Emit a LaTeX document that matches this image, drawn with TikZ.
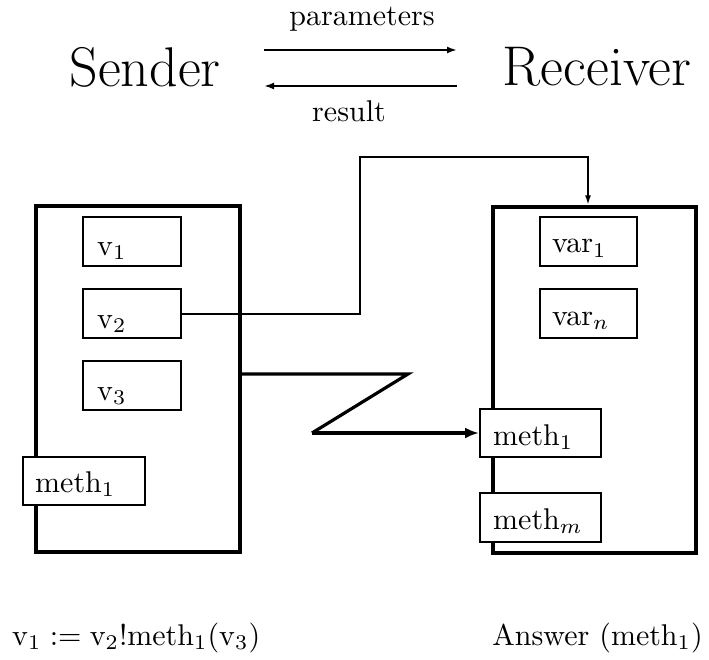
\documentclass[tikz,border=0pt]{standalone}
\usepackage{graphicx}
\usetikzlibrary{arrows.meta}
% text is set at 10pt and enlarged, so the small design of the font is kept
\newcommand{\SX}[1]{\scalebox{3}{#1}}
\newcommand{\HX}[1]{\scalebox{2.25}{\Huge #1}}
\begin{document}
\begin{tikzpicture}[x=1pt,y=-1pt,
  bigframe/.style={draw, line width=3.4pt, inner sep=0pt},
  slot/.style={draw, line width=2pt, fill=white, inner sep=0pt},
  lbl/.style={inner sep=0pt, anchor=base west},
  ctr/.style={inner sep=0pt, anchor=base},
  msg/.style={line width=2.4pt},
  wire/.style={line width=2pt},
  bolt/.style={line width=3.2pt, line join=miter},
  fire/.style={line width=4.2pt}]
\useasboundingbox (0,0) rectangle (709,660);

% header: the two objects and the message exchange
\node[ctr] (sender) at (145,87) {\HX{Sender}};
\node[ctr] (receiver) at (597,86) {\HX{Receiver}};
\node[ctr] (params) at (362,26) {\SX{parameters}};
\node[ctr] (result) at (349,122) {\SX{result}};
\coordinate (pa) at (264,50);
\coordinate (pb) at (457,50);
\coordinate (ra) at (457,86);
\coordinate (rb) at (264,86);
\draw[msg,-{Latex[length=10pt,width=7pt]}] (pa) -- (pb);
\draw[msg,-{Latex[length=10pt,width=7pt]}] (ra) -- (rb);

% sender object
\node[bigframe, minimum width=204pt, minimum height=346pt] (sframe) at (138,379) {};
\node[slot, minimum width=98pt, minimum height=49pt] (v1) at (132,241.5) {};
\node[slot, minimum width=98pt, minimum height=49pt] (v2) at (132,313.5) {};
\node[slot, minimum width=98pt, minimum height=49pt] (v3) at (132,385.5) {};
\node[slot, minimum width=122pt, minimum height=48pt] (smeth) at (84,481) {};
\node[lbl] (tv1) at (97,255) {\SX{v$_1$}};
\node[lbl] (tv2) at (97,328) {\SX{v$_2$}};
\node[lbl] (tv3) at (97,400) {\SX{v$_3$}};
\node[lbl] (tsmeth) at (35,492) {\SX{meth$_1$}};

% receiver object
\node[bigframe, minimum width=203pt, minimum height=346pt] (rframe) at (594.5,380) {};
\node[slot, minimum width=97pt, minimum height=49pt] (var1) at (588.5,241.5) {};
\node[slot, minimum width=97pt, minimum height=49pt] (varn) at (588.5,313.5) {};
\node[slot, minimum width=121pt, minimum height=48pt] (rmeth1) at (540.5,433) {};
\node[slot, minimum width=121pt, minimum height=49pt] (rmethm) at (540.5,517.5) {};
\node[lbl] (tvar1) at (552,253) {\SX{var$_1$}};
\node[lbl] (tvarn) at (552,325) {\SX{var$_n$}};
\node[lbl] (trmeth1) at (493,445) {\SX{meth$_1$}};
\node[lbl] (trmethm) at (493,529) {\SX{meth$_m$}};

% parameter passed from v2 into the receiver
\coordinate (up) at (360,157);
\coordinate (drop) at (588,157);
\draw[wire,-{Latex[length=10pt,width=6pt]}] (v2.east) -| (up) -- (drop) -- (drop |- rframe.north);

% the message send
\coordinate (z1) at (408,374);
\coordinate (z2) at (312,433);
\draw[bolt] (sframe.east |- z1) -- (z1) -- (z2);
\draw[fire,-{Latex[length=14pt,width=11pt]}] (z2) -- (rmeth1.west);

% statements
\node[lbl] (call) at (12,645) {\SX{$\mathrm{v}_1 := \mathrm{v}_2!\mathrm{meth}_1(\mathrm{v}_3)$}};
\node[inner sep=0pt, anchor=base east] (answer) at (703,645) {\SX{Answer (meth$_1$)}};
\end{tikzpicture}
\end{document}
